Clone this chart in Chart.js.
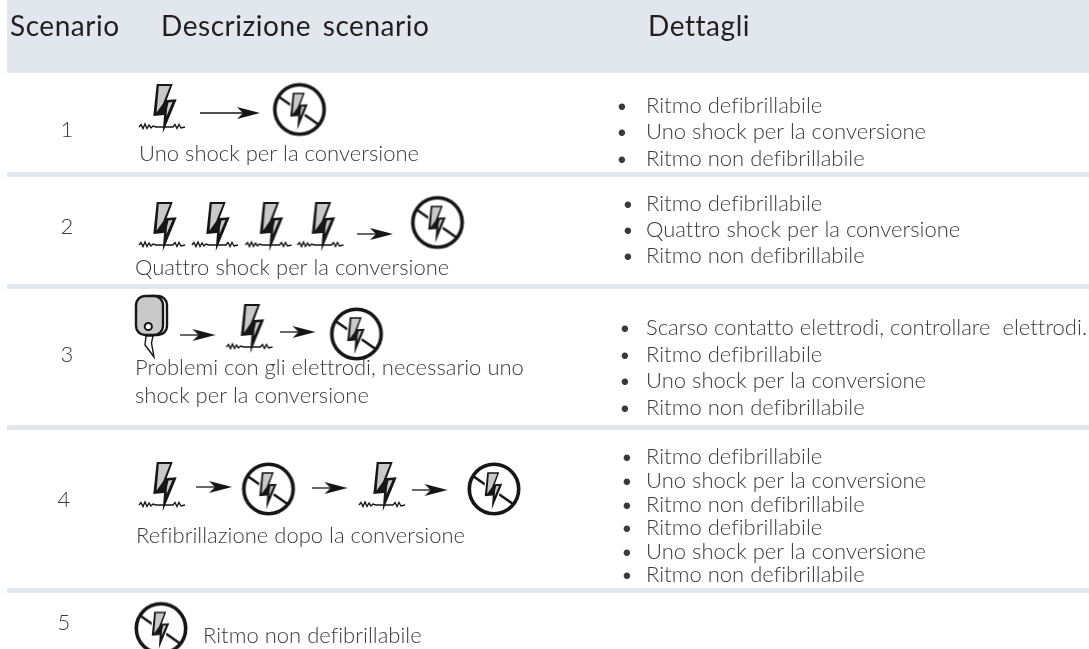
<!DOCTYPE html>
<html>
<head>
<meta charset="utf-8">
<script src="https://cdn.jsdelivr.net/npm/chart.js@4"></script>
<style>
    html, body { margin: 0; padding: 0; background: #fff; }
    canvas { display: block; }
</style>
</head>
<body>
<canvas id="scenari" width="1089" height="649"></canvas>
<script>
// Table content
var headers = ["Scenario", "Descrizione scenario", "Dettagli"];
var scenarios = ["1", "2", "3", "4", "5"];
var descriptions = [
    ["Uno shock per la conversione"],
    ["Quattro shock per la conversione"],
    ["Problemi con gli elettrodi, necessario uno", "shock per la conversione"],
    ["Refibrillazione dopo la conversione"],
    ["Ritmo non defibrillabile"]
];
var details = [
    ["Ritmo defibrillabile", "Uno shock per la conversione", "Ritmo non defibrillabile"],
    ["Ritmo defibrillabile", "Quattro shock per la conversione", "Ritmo non defibrillabile"],
    ["Scarso contatto elettrodi, controllare  elettrodi.", "Ritmo defibrillabile", "Uno shock per la conversione", "Ritmo non defibrillabile"],
    ["Ritmo defibrillabile", "Uno shock per la conversione", "Ritmo non defibrillabile", "Ritmo defibrillabile", "Uno shock per la conversione", "Ritmo non defibrillabile"],
    []
];

// Where things sit on the page axes (the axes run 0-1089 and 649-0)
var headerX = [10, 161, 648];
var scenarioX = [67, 67, 67, 64, 64];
var scenarioY = [137, 234, 362, 507, 630];
var descriptionX = [139, 135, 135, 136, 203];
var descriptionY = [[161], [275], [375, 403], [543], [643]];
var bulletX = [622, 628, 625, 627, 0];
var detailY = [[113, 139, 166], [211, 237, 263], [335, 362, 388, 415], [464, 488, 512, 535, 559, 582], []];
var separatorY = [174.5, 286.5, 427.5, 590.5];

var shockPoints = [
    {x: 162, y: 108}, {x: 162, y: 226}, {x: 215, y: 226}, {x: 268.5, y: 226}, {x: 320.5, y: 226},
    {x: 249.5, y: 328}, {x: 162, y: 486}, {x: 382, y: 486}
];
var noShockPoints = [
    {x: 299.5, y: 109.5}, {x: 437.5, y: 222.5}, {x: 356.5, y: 334}, {x: 268.5, y: 489}, {x: 494, y: 489}, {x: 161, y: 628.5}
];
var padPoints = [{x: 152, y: 326}];
var longArrowPoints = [{x: 230, y: 113}];
var shortArrowPoints = [
    {x: 375, y: 234}, {x: 197.5, y: 335}, {x: 297.5, y: 332},
    {x: 214, y: 487}, {x: 329.5, y: 488}, {x: 429.5, y: 490}
];

function newIcon(w, h, draw) {
    var c = document.createElement("canvas");
    c.width = w;
    c.height = h;
    draw(c.getContext("2d"));
    return c;
}

function polygon(g, pts) {
    g.beginPath();
    pts.forEach(function(p, i) {
        if (i === 0) g.moveTo(p[0], p[1]);
        else g.lineTo(p[0], p[1]);
    });
    g.closePath();
}

var boltShape = [[19.7, 3], [35.7, 3], [29.7, 19], [39.7, 18.3], [25.7, 52.3], [27, 34], [16.3, 35]];

function drawBolt(g) {
    polygon(g, boltShape);
    g.fillStyle = "#161616";
    g.fill();
    polygon(g, [[21.8, 5], [33, 5], [26, 22.5], [19.6, 31.5]]);
    g.fillStyle = "#c9c9c9";
    g.fill();
    polygon(g, [[31.5, 21.5], [35.5, 21], [29.5, 35], [30, 28]]);
    g.fill();
}

var shockIcon = newIcon(50, 54, function(g) {
    g.strokeStyle = "#161616";
    g.lineWidth = 1.4;
    g.beginPath();
    var wave = [[2, 46], [4, 43.5], [6, 47.5], [8, 43], [10, 47.5], [12, 44], [14, 47], [16, 45], [19, 46], [36, 46], [38, 43.5], [40, 47.5], [42, 43.5], [44, 47], [48, 46]];
    wave.forEach(function(p, i) {
        if (i === 0) g.moveTo(p[0], p[1]);
        else g.lineTo(p[0], p[1]);
    });
    g.stroke();
    drawBolt(g);
});

var noShockIcon = newIcon(58, 58, function(g) {
    g.strokeStyle = "#161616";
    g.lineWidth = 2.6;
    g.beginPath();
    g.moveTo(8, 16);
    g.lineTo(48, 44);
    g.stroke();
    g.save();
    g.translate(7.5, 10);
    g.scale(0.75, 0.75);
    // white halo so the bar stops at the bolt
    polygon(g, boltShape);
    g.strokeStyle = "#fff";
    g.lineWidth = 3.5;
    g.stroke();
    drawBolt(g);
    g.restore();
    g.strokeStyle = "#161616";
    g.lineWidth = 3.6;
    g.beginPath();
    g.arc(29, 29, 24.7, 0, Math.PI * 2);
    g.stroke();
});

var padIcon = newIcon(40, 66, function(g) {
    g.strokeStyle = "#161616";
    g.lineWidth = 2.4;
    g.beginPath();
    g.roundRect(10, 3, 25, 39, 9);
    g.stroke();
    g.fillStyle = "#c9c9c9";
    g.beginPath();
    g.roundRect(4, 3, 27, 39, 9);
    g.fill();
    g.stroke();
    g.fillStyle = "#fff";
    g.lineWidth = 2;
    g.beginPath();
    g.arc(16.3, 33.5, 3.6, 0, Math.PI * 2);
    g.fill();
    g.stroke();
    polygon(g, [[14, 43], [21, 43], [19.5, 50], [22, 64], [13, 52]]);
    g.fillStyle = "#fff";
    g.fill();
    g.lineWidth = 1.4;
    g.stroke();
});

function arrowIcon(w) {
    return newIcon(w, 16, function(g) {
        g.strokeStyle = "#161616";
        g.lineWidth = 1.3;
        g.beginPath();
        g.moveTo(0, 8);
        g.lineTo(w - 14, 8);
        g.stroke();
        polygon(g, [[w - 23, 2], [w, 8], [w - 23, 14], [w - 17, 8]]);
        g.fillStyle = "#161616";
        g.fill();
    });
}

function band(y, width) {
    return {
        type: "scatter",
        data: [{x: 7, y: y}, {x: 1089, y: y}],
        showLine: true,
        borderColor: "#e1e7ec",
        borderWidth: width,
        borderCapStyle: "butt",
        pointRadius: 0,
        clip: false,
        order: 10
    };
}

function icons(points, style) {
    return {
        type: "scatter",
        data: points,
        pointStyle: style,
        pointRadius: 10,
        showLine: false,
        clip: false,
        order: 1
    };
}

var tableText = {
    id: "tableText",
    afterDatasetsDraw: function(chart) {
        var c = chart.ctx;
        var xs = chart.scales.x;
        var ys = chart.scales.y;
        function put(text, x, y) {
            c.fillText(text, xs.getPixelForValue(x), ys.getPixelForValue(y));
        }
        c.save();
        c.textBaseline = "alphabetic";
        c.textAlign = "left";

        c.fillStyle = "#231f20";
        c.font = "400 28px Lato";
        c.letterSpacing = "0.55px";
        c.wordSpacing = "4px";
        headers.forEach(function(h, i) {
            put(h, headerX[i], 36);
        });

        c.letterSpacing = "0.01px";
        c.wordSpacing = "0px";
        c.fillStyle = "#3a3a3a";
        c.font = "300 22px Lato";
        scenarios.forEach(function(s, i) {
            c.textAlign = "center";
            put(s, scenarioX[i], scenarioY[i]);
            c.textAlign = "left";
            descriptions[i].forEach(function(line, j) {
                put(line, descriptionX[i], descriptionY[i][j]);
            });
            details[i].forEach(function(line, j) {
                c.textAlign = "center";
                put("•", bulletX[i], detailY[i][j]);
                c.textAlign = "left";
                put(line, 646, detailY[i][j]);
            });
        });
        c.restore();
    }
};

document.addEventListener("DOMContentLoaded", function() {
    var ctx = document.getElementById("scenari");

    var datasets = [band(36.5, 73)];
    separatorY.forEach(function(y) {
        datasets.push(band(y, 5));
    });
    datasets.push(icons(shockPoints, shockIcon));
    datasets.push(icons(noShockPoints, noShockIcon));
    datasets.push(icons(padPoints, padIcon));
    datasets.push(icons(longArrowPoints, arrowIcon(60)));
    datasets.push(icons(shortArrowPoints, arrowIcon(36)));

    new Chart(ctx, {
        type: "scatter",
        data: { datasets: datasets },
        options: {
            responsive: false,
            animation: false,
            layout: { padding: 0, autoPadding: false },
            plugins: {
                legend: { display: false },
                tooltip: { enabled: false }
            },
            scales: {
                x: { type: "linear", min: 0, max: 1089, display: false },
                y: { type: "linear", min: 0, max: 649, reverse: true, display: false }
            }
        },
        plugins: [tableText]
    });
});
</script>
</body>
</html>
